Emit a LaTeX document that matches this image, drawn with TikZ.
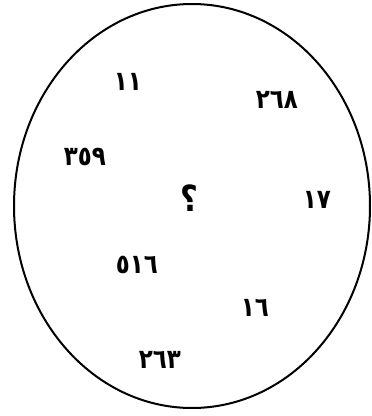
\documentclass[tikz,border=0pt]{standalone}
\usepackage{fontspec}
\newfontfamily\arabicfont[Script=Arabic,FakeStretch=0.85]{DejaVu Sans}
\TeXXeTstate=1
\begin{document}
\begin{tikzpicture}[x=1pt,y=-1pt,
  num/.style={font=\arabicfont\bfseries\fontsize{27}{27}\selectfont,inner sep=0pt}]
\useasboundingbox (0,0) rectangle (372,416);
\draw[line width=2pt](192,206) ellipse [x radius=178, y radius=202];
\node[num](n11) at (128,82){١١};
\node[num](n268) at (277,100){٢٦٨};
\node[num](n359) at (85,157){٣٥٩};
\node[num,font=\arabicfont\bfseries\fontsize{36}{36}\selectfont](qmark) at (189,198){\beginR ؟\endR};
\node[num](n17) at (317,200){١٧};
\node[num](n516) at (137,265){٥١٦};
\node[num](n16) at (255,308){١٦};
\node[num](n263) at (160,360){٢٦٣};
\end{tikzpicture}
\end{document}
